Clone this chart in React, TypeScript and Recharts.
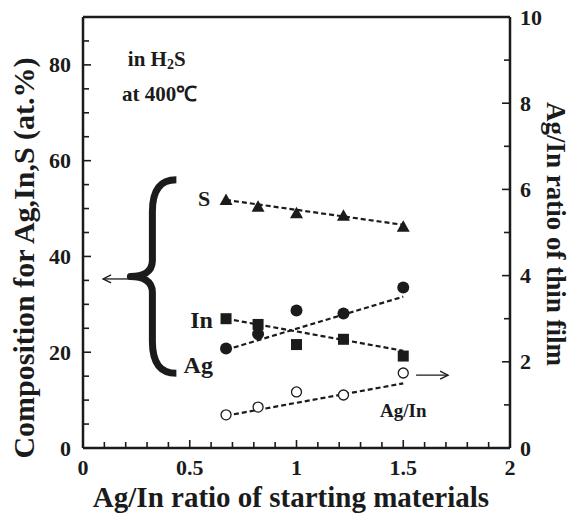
import React from 'react';
import { ScatterChart, Scatter, XAxis, YAxis, ReferenceLine, ReferenceDot } from 'recharts';

// Ag/In ratio of starting materials
const ratio = [0.67, 0.82, 1.0, 1.22, 1.5];
// composition (at.%)
const sPct = [51.8, 50.4, 49.0, 48.5, 46.2];
const inPct = [27.0, 25.8, 21.6, 22.7, 19.2];
const agPct = [20.8, 23.8, 28.7, 28.1, 33.5];
// Ag/In ratio of thin film (right axis)
const agInFilm = [0.77, 0.95, 1.3, 1.23, 1.74];

// dashed guide lines (end points)
const fitX = [0.67, 1.5];
const sFitY = [51.8, 46.6];
const inFitY = [27.0, 20.3];
const agFitY = [20.5, 31.6];
const agInFitY = [0.75, 1.5];

const xTicks = [0, 0.1, 0.2, 0.3, 0.4, 0.5, 0.6, 0.7, 0.8, 0.9, 1, 1.1, 1.2, 1.3, 1.4, 1.5, 1.6, 1.7, 1.8, 1.9, 2];
const leftTicks = [0, 5, 10, 15, 20, 25, 30, 35, 40, 45, 50, 55, 60, 65, 70, 75, 80, 85];
const rightTicks = [0, 1, 2, 3, 4, 5, 6, 7, 8, 9, 10];

const pts = (ys: number[], xs: number[] = ratio) => xs.map((x, i) => ({ x, y: ys[i] }));

const INK = '#1b1b1b';

const isMult = (v: number, step: number) => Math.abs(v / step - Math.round(v / step)) < 1e-6;

const T = (props: any) => <text fontFamily="Liberation Serif" fontWeight="bold" fill={INK} {...props} />;

const LeftTick = (p: any) => {
  const v = p.payload.value;
  const ax = p.x + 12;
  const major = isMult(v, 20);
  return (
    <g>
      <line x1={ax} x2={ax + (major ? 8 : 6)} y1={p.y} y2={p.y} stroke={INK} strokeWidth={1.6} />
      {major && (
        <T x={p.x} y={p.y} textAnchor="end" dominantBaseline="central" fontSize={22}>
          {v}
        </T>
      )}
    </g>
  );
};

const RightTick = (p: any) => {
  const v = p.payload.value;
  const ax = p.x - 10;
  const major = isMult(v, 2);
  return (
    <g>
      <line x1={ax} x2={ax - (major ? 8 : 6)} y1={p.y} y2={p.y} stroke={INK} strokeWidth={1.6} />
      {major && (
        <T x={p.x} y={p.y} textAnchor="start" dominantBaseline="central" fontSize={22}>
          {v}
        </T>
      )}
    </g>
  );
};

const BottomTick = (p: any) => {
  const v = p.payload.value;
  const ay = p.y;
  const major = isMult(v, 0.5);
  return (
    <g>
      <line x1={p.x} x2={p.x} y1={ay} y2={ay - (major ? 8 : 6)} stroke={INK} strokeWidth={1.6} />
      {major && (
        <T x={p.x} y={ay + 27} textAnchor="middle" fontSize={22}>
          {v}
        </T>
      )}
    </g>
  );
};

const TopTick = (p: any) => {
  const v = p.payload.value;
  const major = isMult(v, 0.5);
  return <line x1={p.x} x2={p.x} y1={p.y} y2={p.y + (major ? 8 : 6)} stroke={INK} strokeWidth={1.6} />;
};

const Triangle = (p: any) => (
  <polygon points={`${p.cx},${p.cy - 6.5} ${p.cx - 6.5},${p.cy + 5} ${p.cx + 6.5},${p.cy + 5}`} fill={INK} />
);
const Square = (p: any) => <rect x={p.cx - 5.5} y={p.cy - 5.5} width={11} height={11} fill={INK} />;
const Filled = (p: any) => <circle cx={p.cx} cy={p.cy} r={6} fill={INK} />;
const Open = (p: any) => <circle cx={p.cx} cy={p.cy} r={5} fill="#fff" stroke={INK} strokeWidth={1.3} />;
const NoMark = () => <g />;

const Brace = (p: any) => {
  const x = p.x1;
  const y1 = Math.min(p.y1, p.y2);
  const y2 = Math.max(p.y1, p.y2);
  const m = (y1 + y2) / 2;
  const d = `M ${x + 24} ${y1} C ${x + 8} ${y1} ${x} ${y1 + 10} ${x} ${y1 + 32} L ${x} ${m - 16} C ${x} ${m - 4} ${x - 10} ${m} ${x - 22} ${m} C ${x - 10} ${m} ${x} ${m + 4} ${x} ${m + 16} L ${x} ${y2 - 32} C ${x} ${y2 - 10} ${x + 8} ${y2} ${x + 24} ${y2}`;
  return <path d={d} fill="none" stroke={INK} strokeWidth={7} strokeLinejoin="round" />;
};

const Arrow = (p: any) => {
  const dir = p.x2 > p.x1 ? 1 : -1;
  return (
    <g stroke={INK} strokeWidth={1.3} fill="none">
      <line x1={p.x1} y1={p.y1} x2={p.x2} y2={p.y2} />
      <path d={`M ${p.x2 - dir * 8} ${p.y2 - 4} L ${p.x2} ${p.y2} L ${p.x2 - dir * 8} ${p.y2 + 4}`} />
    </g>
  );
};

const txt = (value: React.ReactNode, size: number, anchor: string = 'middle') => (props: any) => {
  const vb = props.viewBox;
  const cx = vb.x + vb.width / 2;
  const cy = vb.y + vb.height / 2;
  return (
    <T x={cx} y={cy} textAnchor={anchor} dominantBaseline="central" fontSize={size}>
      {value}
    </T>
  );
};

const dash = { stroke: INK, strokeWidth: 2.2, strokeDasharray: '5 3' };

export default function App() {
  return (
    <div style={{ position: 'absolute', left: 0, top: 0, background: '#fff' }}>
      <ScatterChart width={571} height={514} margin={{ top: 16, right: 8, bottom: 8, left: 8 }}>
        <XAxis
          dataKey="x"
          type="number"
          domain={[0, 2]}
          ticks={xTicks}
          interval={0}
          tickSize={0}
          tickMargin={0}
          height={58}
          tick={BottomTick}
          axisLine={{ stroke: INK, strokeWidth: 2.5 }}
          label={{
            content: (props: any) => (
              <T x={291} y={props.viewBox.y + 59} textAnchor="middle" fontSize={29}>
                Ag/In ratio of starting materials
              </T>
            ),
          }}
        />
        <XAxis
          xAxisId="top"
          orientation="top"
          dataKey="x"
          type="number"
          domain={[0, 2]}
          ticks={xTicks}
          interval={0}
          tickSize={0}
          tickMargin={0}
          height={1}
          tick={TopTick}
          axisLine={{ stroke: INK, strokeWidth: 2.5 }}
        />
        <YAxis
          yAxisId="left"
          dataKey="y"
          type="number"
          domain={[0, 90]}
          ticks={leftTicks}
          interval={0}
          tickSize={0}
          tickMargin={12}
          width={75}
          tick={LeftTick}
          axisLine={{ stroke: INK, strokeWidth: 2.5 }}
          label={{
            content: () => (
              <T x={23} y={258} transform="rotate(-90 23 258)" textAnchor="middle" dominantBaseline="central" fontSize={30}>
                Composition for Ag,In,S (at.%)
              </T>
            ),
          }}
        />
        <YAxis
          yAxisId="right"
          orientation="right"
          dataKey="y"
          type="number"
          domain={[0, 10]}
          ticks={rightTicks}
          interval={0}
          tickSize={0}
          tickMargin={10}
          width={53}
          tick={RightTick}
          axisLine={{ stroke: INK, strokeWidth: 2.5 }}
          label={{
            content: () => (
              <T x={556} y={234} transform="rotate(90 556 234)" textAnchor="middle" dominantBaseline="central" fontSize={27}>
                Ag/In ratio of thin film
              </T>
            ),
          }}
        />

        <Scatter yAxisId="left" data={pts(sFitY, fitX)} line={dash} shape={NoMark} isAnimationActive={false} />
        <Scatter yAxisId="left" data={pts(inFitY, fitX)} line={dash} shape={NoMark} isAnimationActive={false} />
        <Scatter yAxisId="left" data={pts(agFitY, fitX)} line={dash} shape={NoMark} isAnimationActive={false} />
        <Scatter yAxisId="right" data={pts(agInFitY, fitX)} line={dash} shape={NoMark} isAnimationActive={false} />

        <Scatter yAxisId="left" data={pts(sPct)} shape={Triangle} isAnimationActive={false} />
        <Scatter yAxisId="left" data={pts(agPct)} shape={Filled} isAnimationActive={false} />
        <Scatter yAxisId="left" data={pts(inPct)} shape={Square} isAnimationActive={false} />
        <Scatter yAxisId="right" data={pts(agInFilm)} shape={Open} isAnimationActive={false} />

        <ReferenceLine yAxisId="left" segment={[{ x: 0.325, y: 56 }, { x: 0.325, y: 15.6 }]} shape={Brace} />
        <ReferenceLine yAxisId="left" segment={[{ x: 0.22, y: 35.3 }, { x: 0.094, y: 35.3 }]} shape={Arrow} />
        <ReferenceLine yAxisId="right" segment={[{ x: 1.56, y: 1.69 }, { x: 1.71, y: 1.69 }]} shape={Arrow} />

        <ReferenceDot yAxisId="left" x={0.567} y={52.2} r={1} fill="none" stroke="none" label={{ content: txt('S', 22) }} />
        <ReferenceDot yAxisId="left" x={0.555} y={26.8} r={1} fill="none" stroke="none" label={{ content: txt('In', 24) }} />
        <ReferenceDot yAxisId="left" x={0.54} y={17.3} r={1} fill="none" stroke="none" label={{ content: txt('Ag', 24) }} />
        <ReferenceDot yAxisId="right" x={1.5} y={0.86} r={1} fill="none" stroke="none" label={{ content: txt('Ag/In', 19) }} />
        <ReferenceDot
          yAxisId="left"
          x={0.21}
          y={81.2}
          r={1}
          fill="none"
          stroke="none"
          label={{
            content: txt(
              <>
                in H
                <tspan fontSize={14} dy={5}>2</tspan>
                <tspan dy={-5}>S</tspan>
              </>,
              21,
              'start'
            ),
          }}
        />
        <ReferenceDot yAxisId="left" x={0.183} y={74} r={1} fill="none" stroke="none" label={{ content: txt('at 400℃', 21, 'start') }} />
      </ScatterChart>
    </div>
  );
}
